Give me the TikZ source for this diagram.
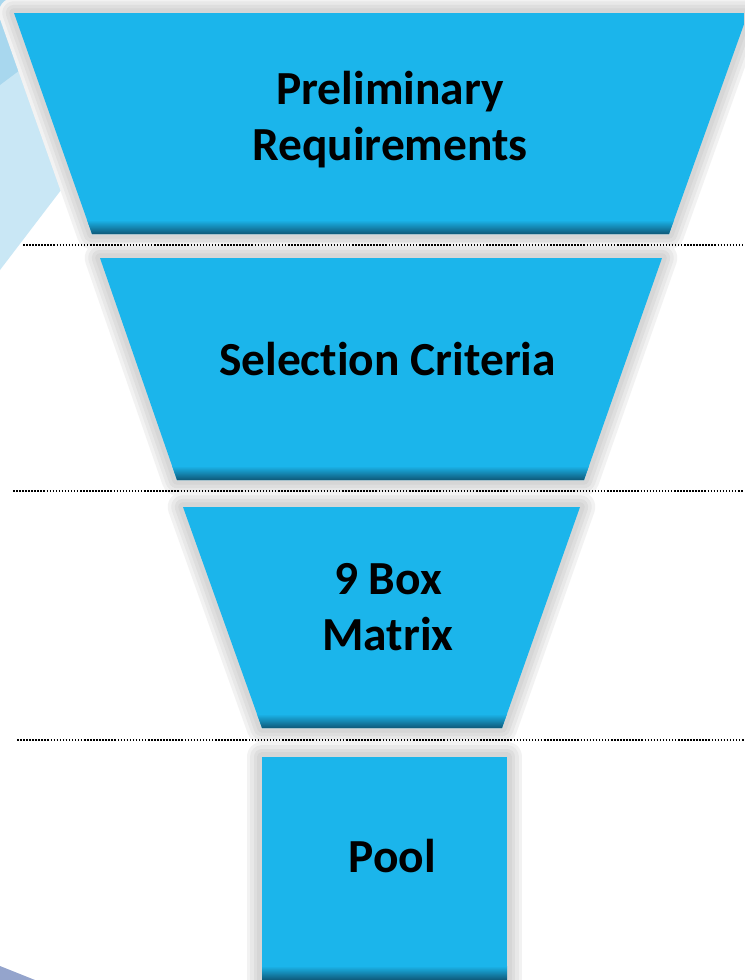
\documentclass[tikz,border=0pt]{standalone}
\usepackage{fontspec}
\setmainfont{Carlito}[Ligatures=CommonOff]
\definecolor{funnelblue}{HTML}{1BB5EB}
\definecolor{funneldark}{HTML}{0E5878}
\definecolor{swooshlight}{HTML}{C9E7F5}
\definecolor{swooshdark}{HTML}{A8D7EE}
\definecolor{swooshgrey}{HTML}{94A4CC}
\tikzset{
  haloa/.style={draw=black!5, line width=26pt, line join=round},
  halob/.style={draw=black!9, line width=20pt, line join=round},
  haloc/.style={draw=black!13, line width=14pt, line join=round},
  halod/.style={draw=black!16, line width=8pt, line join=round},
  sep/.style={draw=black, line width=1.3pt, dash pattern=on 1.3pt off 1.3pt},
  label/.style={font=\bfseries\fontsize{40.5}{47}\selectfont, text=black, align=center, inner sep=0pt}
}
\newcommand{\funnelpart}[1]{%
  \path[haloa] #1 -- cycle;
  \path[halob] #1 -- cycle;
  \path[haloc] #1 -- cycle;
  \path[halod] #1 -- cycle;
}
\begin{document}
\begin{tikzpicture}[x=0.03cm,y=-0.03cm]
\useasboundingbox (0,0) rectangle (744,980);
\fill[white] (0,0) rectangle (744,980);
% background swoosh
\fill[swooshlight] (0,0) -- (206,0) -- (0,270) -- cycle;
\fill[swooshdark] (0,0) -- (113,0) -- (0,85) -- cycle;
\fill[swooshgrey] (0,966) -- (35,980) -- (0,980) -- cycle;
% halos
\funnelpart{(14,13) -- (748,13) -- (669,234) -- (92,234)}
\funnelpart{(100,258) -- (662,258) -- (584,480) -- (177,480)}
\funnelpart{(183,507) -- (580,507) -- (502,728) -- (262,728)}
\funnelpart{(262,757) -- (507,757) -- (507,990) -- (262,990)}
% shapes
\begin{scope}
  \clip (14,13) -- (748,13) -- (669,234) -- (92,234) -- cycle;
  \fill[funnelblue] (0,0) rectangle (744,240);
  \shade[top color=funnelblue, bottom color=funneldark] (0,220) rectangle (744,234);
\end{scope}
\begin{scope}
  \clip (100,258) -- (662,258) -- (584,480) -- (177,480) -- cycle;
  \fill[funnelblue] (0,250) rectangle (744,490);
  \shade[top color=funnelblue, bottom color=funneldark] (0,466) rectangle (744,480);
\end{scope}
\begin{scope}
  \clip (183,507) -- (580,507) -- (502,728) -- (262,728) -- cycle;
  \fill[funnelblue] (0,500) rectangle (744,735);
  \shade[top color=funnelblue, bottom color=funneldark] (0,714) rectangle (744,728);
\end{scope}
\begin{scope}
  \clip (262,757) rectangle (507,980);
  \fill[funnelblue] (262,757) rectangle (507,980);
  \shade[top color=funnelblue, bottom color=funneldark] (262,966) rectangle (507,980);
\end{scope}
% dotted separators
\coordinate (s1a) at (23,245);  \coordinate (s1b) at (744,245);
\coordinate (s2a) at (13,491);  \coordinate (s2b) at (744,491);
\coordinate (s3a) at (17,740);  \coordinate (s3b) at (744,740);
\draw[sep] (s1a) -- (s1b);
\draw[sep] (s2a) -- (s2b);
\draw[sep] (s3a) -- (s3b);
% labels
\node[label, anchor=base] (t1) at (390,160) {Preliminary\\Requirements};
\node[label, anchor=base] (t2) at (387.5,375) {Selection Criteria};
\node[label, anchor=base] (t3) at (388,650) {9 Box\\Matrix};
\node[label, anchor=base] (t4) at (392.5,872) {Pool};
\end{tikzpicture}
\end{document}
